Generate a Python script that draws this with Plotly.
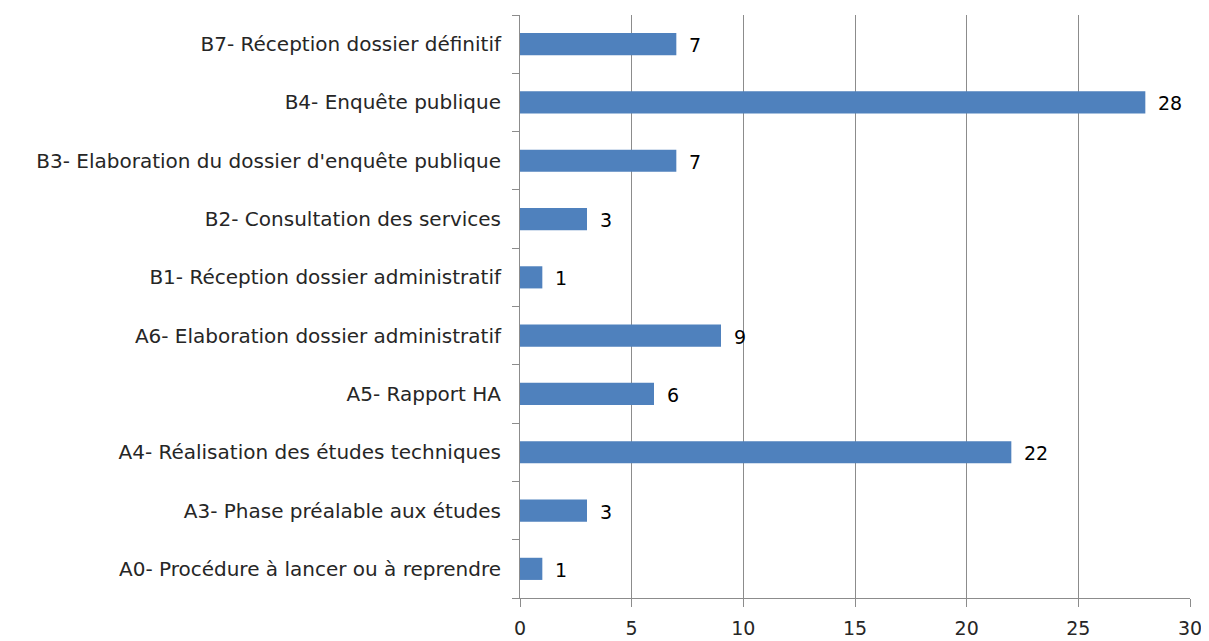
import plotly.graph_objects as go

categories = [
    "A0- Procédure à lancer ou à reprendre",
    "A3- Phase préalable aux études",
    "A4- Réalisation des études techniques",
    "A5- Rapport HA",
    "A6- Elaboration dossier administratif",
    "B1- Réception dossier administratif",
    "B2- Consultation des services",
    "B3- Elaboration du dossier d'enquête publique",
    "B4- Enquête publique",
    "B7- Réception dossier définitif",
]
values = [1, 3, 22, 6, 9, 1, 3, 7, 28, 7]
x_ticks = [0, 5, 10, 15, 20, 25, 30]

FONT = "DejaVu Sans"

fig = go.Figure(go.Bar(
    y=categories, x=values, orientation="h",
    marker=dict(color="#4F81BD", line=dict(width=0)),
    cliponaxis=False,
))

for c, v in zip(categories, values):
    fig.add_annotation(
        x=v, y=c, text=str(v), showarrow=False,
        xanchor="left", yanchor="middle", xshift=11, yshift=-1,
        font=dict(family=FONT, size=19, color="#000000"),
    )

fig.update_layout(
    width=1209, height=641,
    margin=dict(l=512, r=27, t=7, b=51),
    paper_bgcolor="white", plot_bgcolor="white",
    bargap=0.62,
    font=dict(family=FONT, size=20, color="#262626"),
    showlegend=False,
)
fig.update_xaxes(
    range=[0, 30], tickvals=x_ticks, ticktext=[str(t) for t in x_ticks],
    showgrid=True, gridcolor="#8C8C8C", gridwidth=1,
    showline=True, linecolor="#8C8C8C", linewidth=1,
    ticks="outside", ticklen=8, tickcolor="#8C8C8C",
    ticklabelstandoff=5, tickfont=dict(size=19), zeroline=False,
    automargin=False,
)
fig.update_yaxes(
    categoryorder="array", categoryarray=categories,
    showline=True, linecolor="#8C8C8C", linewidth=1,
    ticks="outside", ticklen=7, tickcolor="#8C8C8C", tickson="boundaries",
    ticklabelstandoff=14, tickfont=dict(size=20), showgrid=False,
    automargin=False,
)

fig.write_html("out.html")
